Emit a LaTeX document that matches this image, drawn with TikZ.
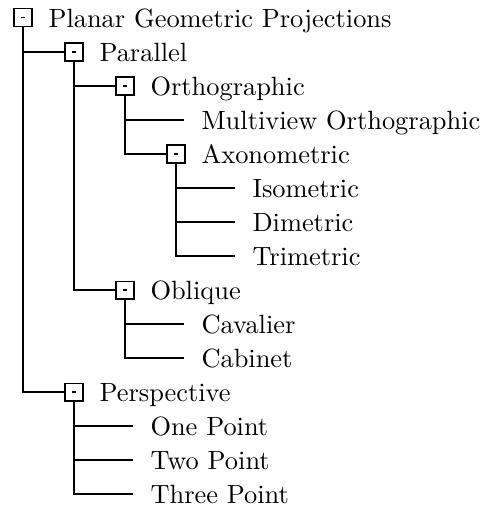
\documentclass[tikz,border=0pt]{standalone}
\begin{document}
\begin{tikzpicture}[x=0.3788pt,y=-0.3788pt,
  toggle/.style={draw,line width=0.4pt,minimum size=6.8pt,inner sep=0pt,fill=white,
    path picture={\draw[line width=0.45pt] ([xshift=-0.8pt]path picture bounding box.center) -- ([xshift=0.8pt]path picture bounding box.center);}},
  lbl/.style={anchor=base west,inner sep=0pt},
  branch/.style={line width=0.4pt}]
\useasboundingbox (0,0) rectangle (483,509);
% root
\node[toggle] (pgp) at (23,17.5) {};
\node[lbl] (tpgp) at (48,27) {Planar Geometric Projections};
% Parallel
\node[toggle] (par) at (74,52) {};
\node[lbl] (tpar) at (99,61) {Parallel};
% Orthographic
\node[toggle] (ort) at (125,86) {};
\node[lbl] (tort) at (150,95) {Orthographic};
\coordinate (mv) at (184,120);
\node[lbl] (tmv) at (201,129) {Multiview Orthographic};
\node[toggle] (axo) at (176,154) {};
\node[lbl] (taxo) at (201,163) {Axonometric};
\coordinate (iso) at (235,188);
\node[lbl] (tiso) at (252,197) {Isometric};
\coordinate (dim) at (235,222);
\node[lbl] (tdim) at (252,231) {Dimetric};
\coordinate (tri) at (235,256);
\node[lbl] (ttri) at (252,265) {Trimetric};
% Oblique
\node[toggle] (obl) at (125,290) {};
\node[lbl] (tobl) at (150,299) {Oblique};
\coordinate (cav) at (184,324);
\node[lbl] (tcav) at (201,333) {Cavalier};
\coordinate (cab) at (184,358);
\node[lbl] (tcab) at (201,367) {Cabinet};
% Perspective
\node[toggle] (per) at (74,392) {};
\node[lbl] (tper) at (99,401) {Perspective};
\coordinate (one) at (133,426);
\node[lbl] (tone) at (150,435) {One Point};
\coordinate (two) at (133,460);
\node[lbl] (ttwo) at (150,469) {Two Point};
\coordinate (three) at (133,494);
\node[lbl] (tthree) at (150,503) {Three Point};
% branches
\draw[branch] (pgp.south) |- (par.west);
\draw[branch] (pgp.south) |- (per.west);
\draw[branch] (par.south) |- (ort.west);
\draw[branch] (par.south) |- (obl.west);
\draw[branch] (ort.south) |- (mv);
\draw[branch] (ort.south) |- (axo.west);
\draw[branch] (axo.south) |- (iso);
\draw[branch] (axo.south) |- (dim);
\draw[branch] (axo.south) |- (tri);
\draw[branch] (obl.south) |- (cav);
\draw[branch] (obl.south) |- (cab);
\draw[branch] (per.south) |- (one);
\draw[branch] (per.south) |- (two);
\draw[branch] (per.south) |- (three);
\end{tikzpicture}
\end{document}
